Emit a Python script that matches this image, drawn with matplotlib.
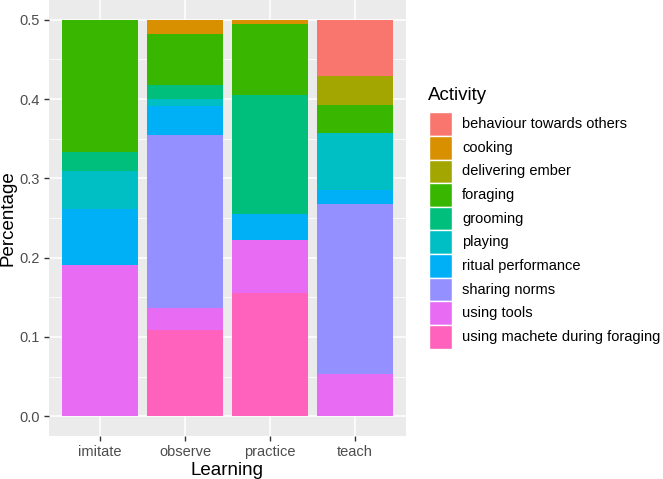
import matplotlib
matplotlib.use("Agg")
import matplotlib.pyplot as plt
from matplotlib.patches import Rectangle
from matplotlib.ticker import MultipleLocator
import numpy as np

plt.rcParams['font.family'] = ['Liberation Sans', 'DejaVu Sans']

learning = ["imitate", "observe", "practice", "teach"]
activities = ["behaviour towards others", "cooking", "delivering ember", "foraging",
              "grooming", "playing", "ritual performance", "sharing norms",
              "using tools", "using machete during foraging"]
colors = ["#F8766D", "#D89000", "#A3A500", "#39B600", "#00BF7D",
          "#00BFC4", "#00B0F6", "#9590FF", "#E76BF3", "#FF62BC"]

# share of each activity per learning type (columns: imitate, observe, practice, teach)
behaviour_towards_others = [0.0, 0.0, 0.0, 0.0714]
cooking = [0.0, 0.0182, 0.0056, 0.0]
delivering_ember = [0.0, 0.0, 0.0, 0.0357]
foraging = [0.1667, 0.0636, 0.0889, 0.0357]
grooming = [0.0238, 0.0182, 0.15, 0.0]
playing = [0.0476, 0.0091, 0.0, 0.0714]
ritual_performance = [0.0714, 0.0364, 0.0333, 0.0179]
sharing_norms = [0.0, 0.2182, 0.0, 0.2143]
using_tools = [0.1905, 0.0273, 0.0667, 0.0536]
using_machete = [0.0, 0.1091, 0.1556, 0.0]

series = [behaviour_towards_others, cooking, delivering_ember, foraging, grooming,
          playing, ritual_performance, sharing_norms, using_tools, using_machete]

W, H = 663, 479
fig = plt.figure(figsize=(W / 100, H / 100), dpi=100)

def fx(px):
    return px / W

def fy(py):
    return 1 - py / H

ax = fig.add_axes([fx(49), fy(436), fx(357) - fx(0), (436 - 0) / H])
ax.set_facecolor("#EBEBEB")
for s in ax.spines.values():
    s.set_visible(False)

x = np.arange(1, len(learning) + 1)
bottom = np.zeros(len(learning))
# ggplot stacks first factor level on top: draw from last to first
for vals, col in zip(series[::-1], colors[::-1]):
    v = np.array(vals)
    ax.bar(x, v, width=0.9, bottom=bottom, color=col, zorder=3, linewidth=0)
    bottom += v

ax.set_xlim(0.4, 4.6)
ax.set_ylim(-0.025, 0.525)
ax.set_xticks(x)
ax.set_xticklabels(learning)
ax.yaxis.set_major_locator(MultipleLocator(0.1))
ax.yaxis.set_minor_locator(MultipleLocator(0.05))
ax.set_yticks(np.arange(0, 0.51, 0.1))
ax.set_yticklabels([f"{t:.1f}" for t in np.arange(0, 0.51, 0.1)])
ax.grid(which="major", color="white", linewidth=1.1, zorder=0)
ax.grid(which="minor", axis="y", color="white", linewidth=0.55, zorder=0)
ax.set_axisbelow(True)
ax.tick_params(axis="both", which="major", colors="#333333", length=3.5, width=1.0,
               labelsize=10.5, labelcolor="#4D4D4D", pad=3)
ax.tick_params(axis="y", which="minor", length=0)
ax.set_xlabel("Learning", fontsize=13.5, color="black", labelpad=2)
ax.set_ylabel("Percentage", fontsize=13.5, color="black")
ax.yaxis.set_label_coords((17 - 49) / 357, 0.5)

# legend (drawn manually to mimic ggplot guide)
fig.text(fx(428), fy(95), "Activity", fontsize=13.5, ha="left", va="center")
key_top = 112.5
key_h = 23.6
for i, (name, col) in enumerate(zip(activities, colors)):
    top = key_top + i * key_h
    fig.patches.append(Rectangle((fx(428.5), fy(top + key_h)), fx(451.5) - fx(428.5),
                                 key_h / H, transform=fig.transFigure, facecolor=col,
                                 edgecolor="white", linewidth=1.0))
    fig.text(fx(462), fy(top + key_h / 2), name, fontsize=10.5, ha="left", va="center")

fig.savefig("out.png", dpi=100)
